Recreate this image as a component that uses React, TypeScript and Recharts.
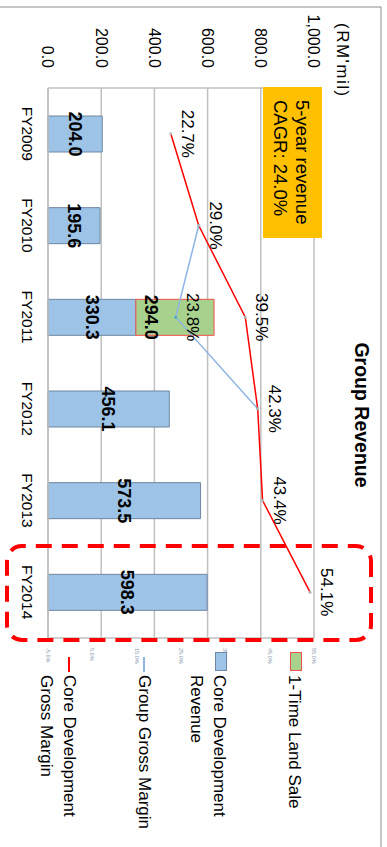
import React from "react";
import {
  ComposedChart,
  Bar,
  Line,
  XAxis,
  YAxis,
  CartesianGrid,
  LabelList,
  Legend,
} from "recharts";

// Group revenue (RM'mil) and gross margins (%), FY2009 - FY2014
const years = ["FY2009", "FY2010", "FY2011", "FY2012", "FY2013", "FY2014"];
const coreRevenue = [204.0, 195.6, 330.3, 456.1, 573.5, 598.3];
const landSale = [null, null, 294.0, null, null, null];
const coreMargin = [22.7, 29.0, 39.5, 42.3, 43.4, 54.1];
const groupMargin = [null, 29.0, 23.8, 42.3, null, null];
const groupMarginShown = [null, null, 23.8, null, null, null];
const revenueTicks = [0, 200, 400, 600, 800, 1000];
const marginTicks = [-5, 5, 15, 25, 35, 45, 55];
const legendNames = [
  ["1-Time Land Sale"],
  ["Core Development", "Revenue"],
  ["Group Gross Margin"],
  ["Core Development", "Gross Margin"],
];

const W = 847;
const H = 387;
const FONT = "'Liberation Sans', Arial, sans-serif";

const BLUE = "#9DC3E6";
const BLUE_EDGE = "#6F87A3";
const GREEN = "#A9D18E";
const LAND_EDGE = "#F0504F";
const RED = "#FF0000";
const MARGIN_BLUE = "#8DB4E2";
const GRID = "#BFBFBF";

const data = years.map((year, i) => ({
  year,
  core: coreRevenue[i],
  land: landSale[i],
  coreMargin: coreMargin[i],
  groupMargin: groupMargin[i],
  groupShown: groupMarginShown[i],
}));

const box = (p: any) => p.viewBox ?? p;

const pctLabel = (p: any) => {
  if (p.value == null) return null;
  const { x, y } = box(p);
  return (
    <text
      x={x}
      y={y - 16.5}
      textAnchor="middle"
      dominantBaseline="central"
      fontSize={17}
      fill="#000"
    >
      {Number(p.value).toFixed(1)}%
    </text>
  );
};

const landLabel = (p: any) => {
  if (p.value == null) return null;
  const { x, y, width, height } = box(p);
  return (
    <text
      x={x + width / 2}
      y={y + height - 15}
      textAnchor="middle"
      dominantBaseline="central"
      fontSize={18}
      fontWeight="bold"
      fill="#000"
    >
      {Number(p.value).toFixed(1)}
    </text>
  );
};

const swatch = (i: number) => {
  if (i === 0)
    return <div style={{ width: 17, height: 10, background: GREEN, border: `1px solid ${LAND_EDGE}` }} />;
  if (i === 1)
    return <div style={{ width: 17, height: 10, background: BLUE, border: `1px solid ${BLUE_EDGE}` }} />;
  return (
    <div style={{ width: 15, height: 2, marginLeft: 5, background: i === 2 ? MARGIN_BLUE : RED }} />
  );
};

const LegendBlock = () => (
  <div style={{ position: "relative", width: 199, height: 310, fontFamily: FONT }}>
    {legendNames.map((lines, i) => {
      const top = 92 + 75.3 * i - 60;
      return (
        <div key={i}>
          <div
            style={{
              position: "absolute",
              left: 4,
              top: top - (i < 2 ? 7 : 1),
            }}
          >
            {swatch(i)}
          </div>
          <div
            style={{
              position: "absolute",
              left: 27,
              top: top - 11.5,
              fontSize: 17,
              lineHeight: "23px",
              color: "#000",
              whiteSpace: "nowrap",
            }}
          >
            {lines.map((t) => (
              <div key={t}>{t}</div>
            ))}
          </div>
        </div>
      );
    })}
  </div>
);

export default function App() {
  return (
    <div
      style={{
        position: "absolute",
        left: 0,
        top: 0,
        width: 387,
        height: 847,
        overflow: "hidden",
        background: "#fff",
      }}
    >
      <div
        style={{
          position: "absolute",
          left: 0,
          top: 0,
          width: W,
          height: H,
          transformOrigin: "0 0",
          transform: `translate(${H}px, 0px) rotate(90deg)`,
          fontFamily: FONT,
        }}
      >
        <ComposedChart
          width={W}
          height={H}
          data={data}
          margin={{ top: 73, right: 179, bottom: 18, left: 28 }}
          style={{ fontFamily: FONT }}
        >
          <CartesianGrid horizontal vertical={false} stroke={GRID} strokeWidth={1.5} />
          <XAxis
            dataKey="year"
            height={30}
            tickLine={false}
            tickMargin={9}
            interval={0}
            axisLine={{ stroke: GRID, strokeWidth: 1.5 }}
            tick={{ fontSize: 15.5, fill: "#000" }}
          />
          <YAxis
            width={60}
            domain={[0, 1000]}
            ticks={revenueTicks}
            interval={0}
            tickLine={false}
            tickMargin={14}
            axisLine={{ stroke: GRID, strokeWidth: 1.5 }}
            tick={{ fontSize: 16, fill: "#000" }}
            tickFormatter={(v: number) =>
              v.toLocaleString("en-US", { minimumFractionDigits: 1, maximumFractionDigits: 1 })
            }
          />
          <YAxis
            yAxisId="pct"
            orientation="right"
            width={30}
            domain={[-5, 55]}
            ticks={marginTicks}
            interval={0}
            tickLine={false}
            tickMargin={4}
            axisLine={{ stroke: GRID, strokeWidth: 1.5 }}
            tick={{ fontSize: 5.5, fill: "#8A9BB0" }}
            tickFormatter={(v: number) => `${v.toFixed(1)}%`}
          />
          <Bar
            dataKey="core"
            stackId="rev"
            barSize={36}
            fill={BLUE}
            stroke={BLUE_EDGE}
            strokeWidth={1}
            isAnimationActive={false}
          >
            <LabelList
              dataKey="core"
              position="center"
              fontSize={18}
              fontWeight="bold"
              fill="#000"
              formatter={(v: any) => Number(v).toFixed(1)}
            />
          </Bar>
          <Bar
            dataKey="land"
            stackId="rev"
            barSize={36}
            fill={GREEN}
            stroke={LAND_EDGE}
            strokeWidth={1}
            isAnimationActive={false}
          >
            <LabelList dataKey="land" content={landLabel} />
          </Bar>
          <Line
            yAxisId="pct"
            type="linear"
            dataKey="groupMargin"
            stroke={MARGIN_BLUE}
            strokeWidth={1.5}
            dot={{ r: 1.5, fill: "#4BACC6", stroke: "none" }}
            activeDot={false}
            isAnimationActive={false}
          >
            <LabelList dataKey="groupShown" content={pctLabel} />
          </Line>
          <Line
            yAxisId="pct"
            type="linear"
            dataKey="coreMargin"
            stroke={RED}
            strokeWidth={1.5}
            dot={{ r: 1.5, fill: "#B4B4B4", stroke: "none" }}
            activeDot={false}
            isAnimationActive={false}
          >
            <LabelList dataKey="coreMargin" content={pctLabel} />
          </Line>
          <Legend
            layout="vertical"
            align="center"
            verticalAlign="middle"
            wrapperStyle={{ left: 648, top: 60, width: 199 }}
            content={() => <LegendBlock />}
          />
        </ComposedChart>

        <svg
          width={W}
          height={H}
          style={{ position: "absolute", left: 0, top: 0, pointerEvents: "none" }}
          fontFamily={FONT}
        >
          <line x1={7} y1={6} x2={7} y2={H} stroke="#8C8C8C" strokeWidth={1} />
          <line x1={7} y1={6} x2={W} y2={6} stroke="#8C8C8C" strokeWidth={1} />
          <text
            x={415}
            y={25}
            textAnchor="middle"
            dominantBaseline="central"
            fontSize={19.5}
            fontWeight="bold"
            fill="#000"
          >
            Group Revenue
          </text>
          <text x={23} y={45} dominantBaseline="central" fontSize={17} letterSpacing={1.5} fill="#000">
            (RM'mil)
          </text>
          <rect x={87} y={65} width={151} height={59} fill="#FFC000" />
          <text x={100} y={85} dominantBaseline="central" fontSize={18.5} fill="#000">
            5-year revenue
          </text>
          <text x={100} y={107} dominantBaseline="central" fontSize={18.5} fill="#000">
            CAGR: 24.0%
          </text>
          <rect
            x={546}
            y={16}
            width={94}
            height={364}
            rx={15}
            fill="none"
            stroke={RED}
            strokeWidth={4}
            strokeDasharray="16 10"
          />
        </svg>
      </div>
    </div>
  );
}
